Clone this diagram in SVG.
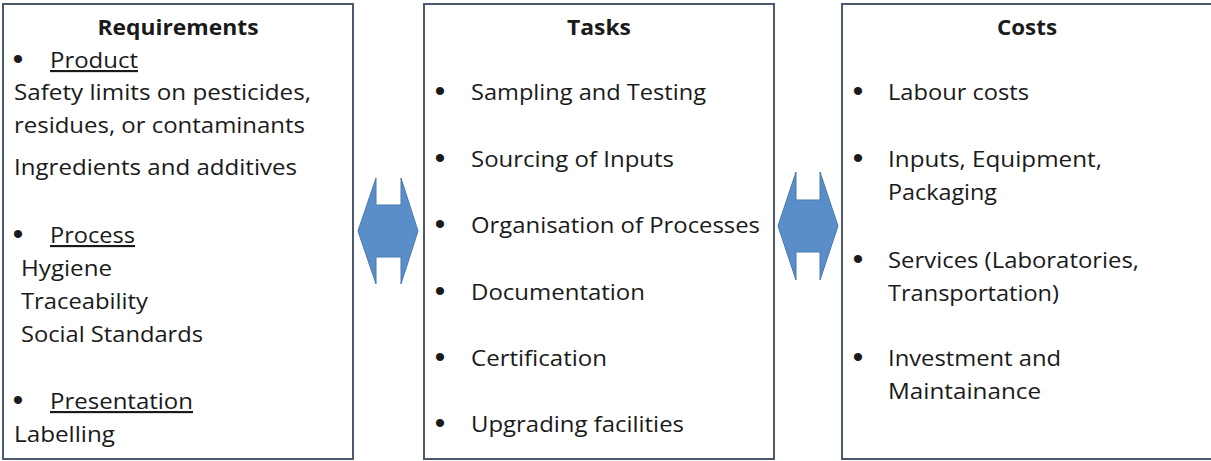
<svg xmlns="http://www.w3.org/2000/svg" width="1211" height="461" viewBox="0 0 1211 461">
  <style>
    .box { fill: #ffffff; stroke: #4b5a6c; stroke-width: 2; }
    .t { font-family: "Open Sans", "Noto Sans", "Liberation Sans", sans-serif; font-size: 21.5px; fill: #1a1a1a; }
    .h { font-family: "Open Sans", "Noto Sans", "Liberation Sans", sans-serif; font-size: 21px; font-weight: bold; fill: #1a1a1a; text-anchor: middle; }
    .b { font-family: "Liberation Sans", "Open Sans", sans-serif; font-size: 30px; fill: #1a1a1a; text-anchor: middle; }
    .u { text-decoration: underline; }
    .arrow { fill: #5a8ec8; stroke: #4a78ad; stroke-width: 1; }
  </style>
  <rect width="1211" height="461" fill="#ffffff"/>

  <g id="requirements">
    <rect class="box" x="3" y="4" width="350" height="455"/>
    <text class="h" x="178" y="35" textLength="161" lengthAdjust="spacingAndGlyphs">Requirements</text>
    <text class="b" x="18" y="69">•</text>
    <text class="t u" x="50" y="68" textLength="88" lengthAdjust="spacingAndGlyphs">Product</text>
    <text class="t" x="14" y="100" textLength="297" lengthAdjust="spacingAndGlyphs">Safety limits on pesticides,</text>
    <text class="t" x="14" y="133" textLength="291" lengthAdjust="spacingAndGlyphs">residues, or contaminants</text>
    <text class="t" x="14" y="175" textLength="283" lengthAdjust="spacingAndGlyphs">Ingredients and additives</text>
    <text class="b" x="18" y="244">•</text>
    <text class="t u" x="50" y="243" textLength="85" lengthAdjust="spacingAndGlyphs">Process</text>
    <text class="t" x="21" y="276" textLength="91" lengthAdjust="spacingAndGlyphs">Hygiene</text>
    <text class="t" x="21" y="309" textLength="127" lengthAdjust="spacingAndGlyphs">Traceability</text>
    <text class="t" x="21" y="342" textLength="182" lengthAdjust="spacingAndGlyphs">Social Standards</text>
    <text class="b" x="18" y="410">•</text>
    <text class="t u" x="50" y="409" textLength="143" lengthAdjust="spacingAndGlyphs">Presentation</text>
    <text class="t" x="14" y="442" textLength="101" lengthAdjust="spacingAndGlyphs">Labelling</text>
  </g>

  <g id="tasks">
    <rect class="box" x="424" y="4" width="350" height="455"/>
    <text class="h" x="599" y="35" textLength="64" lengthAdjust="spacingAndGlyphs">Tasks</text>
    <text class="b" x="440" y="101">•</text>
    <text class="t" x="471" y="100" textLength="235" lengthAdjust="spacingAndGlyphs">Sampling and Testing</text>
    <text class="b" x="440" y="168">•</text>
    <text class="t" x="471" y="167" textLength="203" lengthAdjust="spacingAndGlyphs">Sourcing of Inputs</text>
    <text class="b" x="440" y="234">•</text>
    <text class="t" x="471" y="233" textLength="289" lengthAdjust="spacingAndGlyphs">Organisation of Processes</text>
    <text class="b" x="440" y="301">•</text>
    <text class="t" x="471" y="300" textLength="174" lengthAdjust="spacingAndGlyphs">Documentation</text>
    <text class="b" x="440" y="367">•</text>
    <text class="t" x="471" y="366" textLength="136" lengthAdjust="spacingAndGlyphs">Certification</text>
    <text class="b" x="440" y="433">•</text>
    <text class="t" x="471" y="432" textLength="213" lengthAdjust="spacingAndGlyphs">Upgrading facilities</text>
  </g>

  <g id="costs">
    <rect class="box" x="842" y="4" width="372" height="455"/>
    <text class="h" x="1027" y="35" textLength="60" lengthAdjust="spacingAndGlyphs">Costs</text>
    <text class="b" x="858" y="101">•</text>
    <text class="t" x="888" y="100" textLength="141" lengthAdjust="spacingAndGlyphs">Labour costs</text>
    <text class="b" x="858" y="168">•</text>
    <text class="t" x="888" y="167" textLength="214" lengthAdjust="spacingAndGlyphs">Inputs, Equipment,</text>
    <text class="t" x="888" y="200" textLength="109" lengthAdjust="spacingAndGlyphs">Packaging</text>
    <text class="b" x="858" y="269">•</text>
    <text class="t" x="888" y="268" textLength="251" lengthAdjust="spacingAndGlyphs">Services (Laboratories,</text>
    <text class="t" x="888" y="301" textLength="171" lengthAdjust="spacingAndGlyphs">Transportation)</text>
    <text class="b" x="858" y="367">•</text>
    <text class="t" x="888" y="366" textLength="173" lengthAdjust="spacingAndGlyphs">Investment and</text>
    <text class="t" x="888" y="399" textLength="153" lengthAdjust="spacingAndGlyphs">Maintainance</text>
  </g>

  <g id="connectors">
    <polygon class="arrow" points="358,231 376,178 376,205 401,205 401,178 418,231 401,284 401,257 376,257 376,284"/>
    <polygon class="arrow" points="778,226 796,172 796,200 820,200 820,172 838,226 820,280 820,252 796,252 796,280"/>
  </g>
</svg>
